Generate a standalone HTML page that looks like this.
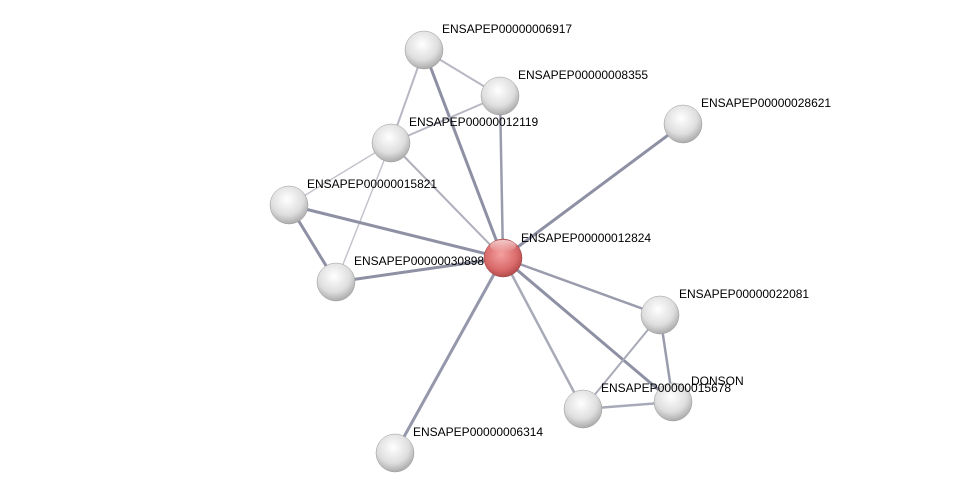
<!DOCTYPE html>
<html><head><meta charset="utf-8"><style>
html,body{margin:0;padding:0;background:#fff;}
svg{display:block;}
text{font-family:"Liberation Sans",sans-serif;font-size:12px;fill:#000;}
</style></head><body>
<svg width="976" height="498" viewBox="0 0 976 498" xmlns="http://www.w3.org/2000/svg">
<defs>
<radialGradient id="g" cx="0.45" cy="0.35" r="0.7">
<stop offset="0" stop-color="#ffffff"/><stop offset="0.6" stop-color="#dedede"/><stop offset="1" stop-color="#a0a0a0"/>
</radialGradient>
<radialGradient id="r" cx="0.45" cy="0.4" r="0.7">
<stop offset="0" stop-color="#f4a0a0"/><stop offset="0.6" stop-color="#d96a6a"/><stop offset="1" stop-color="#a03a3a"/>
</radialGradient>
<linearGradient id="hl" x1="0" y1="0" x2="0" y2="1">
<stop offset="0" stop-color="#fff" stop-opacity="0.9"/><stop offset="1" stop-color="#fff" stop-opacity="0"/>
</linearGradient>
</defs>
<g stroke="#9a9cae" stroke-linecap="round">
<line x1="424" y1="50" x2="500" y2="96" stroke-width="2" stroke="#b8b8c4"/>
<line x1="424" y1="50" x2="391" y2="143" stroke-width="2" stroke="#b8b8c4"/>
<line x1="424" y1="50" x2="503" y2="258" stroke-width="3" stroke="#8e90a4"/>
<line x1="500" y1="96" x2="391" y2="143" stroke-width="2" stroke="#b8b8c4"/>
<line x1="500" y1="96" x2="503" y2="258" stroke-width="2.5"/>
<line x1="391" y1="143" x2="503" y2="258" stroke-width="2" stroke="#b0b0bc"/>
<line x1="391" y1="143" x2="289" y2="205" stroke-width="1.5" stroke="#c4c4cc"/>
<line x1="391" y1="143" x2="336" y2="282" stroke-width="1.5" stroke="#c4c4cc"/>
<line x1="289" y1="205" x2="503" y2="258" stroke-width="3" stroke="#8e90a4"/>
<line x1="289" y1="205" x2="336" y2="282" stroke-width="3" stroke="#8e90a4"/>
<line x1="336" y1="282" x2="503" y2="258" stroke-width="3" stroke="#8e90a4"/>
<line x1="683" y1="124" x2="503" y2="258" stroke-width="3" stroke="#8e90a4"/>
<line x1="503" y1="258" x2="660" y2="315" stroke-width="2.5"/>
<line x1="503" y1="258" x2="673" y2="402" stroke-width="3" stroke="#8e90a4"/>
<line x1="503" y1="258" x2="583" y2="409" stroke-width="2.5" stroke="#a8aab8"/>
<line x1="503" y1="258" x2="395" y2="453" stroke-width="3" stroke="#9597aa"/>
<line x1="660" y1="315" x2="673" y2="402" stroke-width="2.5"/>
<line x1="660" y1="315" x2="583" y2="409" stroke-width="2" stroke="#a8aab8"/>
<line x1="583" y1="409" x2="673" y2="402" stroke-width="2.5" stroke="#a8aab8"/>
</g>
<g>
<circle cx="424" cy="50" r="19" fill="url(#g)" stroke="#999" stroke-width="0.5"/>
<circle cx="500" cy="96" r="19" fill="url(#g)" stroke="#999" stroke-width="0.5"/>
<circle cx="391" cy="143" r="19" fill="url(#g)" stroke="#999" stroke-width="0.5"/>
<circle cx="683" cy="124" r="19" fill="url(#g)" stroke="#999" stroke-width="0.5"/>
<circle cx="289" cy="205" r="19" fill="url(#g)" stroke="#999" stroke-width="0.5"/>
<circle cx="336" cy="282" r="19" fill="url(#g)" stroke="#999" stroke-width="0.5"/>
<circle cx="660" cy="315" r="19" fill="url(#g)" stroke="#999" stroke-width="0.5"/>
<circle cx="673" cy="402" r="19" fill="url(#g)" stroke="#999" stroke-width="0.5"/>
<circle cx="583" cy="409" r="19" fill="url(#g)" stroke="#999" stroke-width="0.5"/>
<circle cx="395" cy="453" r="19" fill="url(#g)" stroke="#999" stroke-width="0.5"/>
<circle cx="503" cy="258" r="19" fill="url(#r)" stroke="#904040" stroke-width="0.5"/>
<ellipse cx="503" cy="246" rx="13" ry="6" fill="url(#hl)" opacity="0.7"/>
</g>
<text x="442" y="33">ENSAPEP00000006917</text>
<text x="518" y="79">ENSAPEP00000008355</text>
<text x="409" y="126">ENSAPEP00000012119</text>
<text x="701" y="107">ENSAPEP00000028621</text>
<text x="307" y="188">ENSAPEP00000015821</text>
<text x="354" y="265">ENSAPEP00000030898</text>
<text x="521" y="242">ENSAPEP00000012824</text>
<text x="679" y="298">ENSAPEP00000022081</text>
<text x="691" y="385">DONSON</text>
<text x="601" y="392">ENSAPEP00000015678</text>
<text x="413" y="436">ENSAPEP00000006314</text>
</svg>
</body></html>
